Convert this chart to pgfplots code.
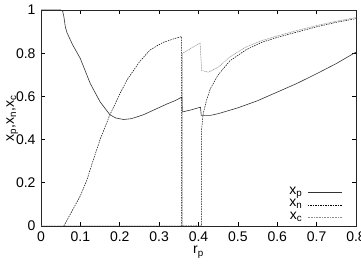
\documentclass[border=0pt]{standalone}
\usepackage{pgfplots}
\pgfplotsset{compat=1.18}
\usepackage{fontspec}
\setmainfont{Liberation Sans}
\begin{document}
\begin{tikzpicture}
\begin{axis}[
  at={(0,0)}, anchor=south west,
  scale only axis, width=315pt, height=216pt,
  xmin=0, xmax=0.8, ymin=0, ymax=1,
  xtick={0,0.1,...,0.8}, ytick={0,0.2,...,1},
  xticklabels={0,0.1,0.2,0.3,0.4,0.5,0.6,0.7,0.8},
  yticklabels={0,0.2,0.4,0.6,0.8,1},
  tick align=inside, major tick length=4pt,
  tick style={black, line width=0.6pt},
  axis line style={line width=0.8pt, black!85},
  xticklabel style={font=\fontsize{14}{16}\selectfont, yshift=-2pt},
  yticklabel style={font=\fontsize{14}{16}\selectfont, xshift=-2pt},
  xlabel={r\textsubscript{p}}, ylabel={x\textsubscript{p},x\textsubscript{n},x\textsubscript{c}},
  label style={font=\fontsize{14}{16}\selectfont},
  xlabel style={yshift=2pt},
  ylabel style={yshift=-9pt},
  legend plot pos=right, legend cell align=right,
  legend image code/.code={\draw[#1] (0pt,0pt) -- (34pt,0pt);},
  legend style={at={(0.956,0.012)}, anchor=south east, draw=none, fill=none,
    font=\fontsize{14}{14}\selectfont, row sep=1.5pt, column sep=4pt, inner sep=0pt,
    nodes={text height=6pt, text depth=3pt, inner sep=1pt}},
]
\addplot[black!80, line width=0.6pt] coordinates {
(0,1)(0.05,1)(0.055,0.995)(0.058,0.97)(0.062,0.92)(0.066,0.895)(0.08,0.84)(0.1,0.775)(0.125,0.66)(0.15,0.575)(0.175,0.515)(0.19,0.50)(0.21,0.493)(0.23,0.497)(0.26,0.515)(0.29,0.54)(0.32,0.565)(0.34,0.58)(0.358,0.597)(0.359,0.528)(0.38,0.537)(0.405,0.55)(0.407,0.512)(0.43,0.512)(0.45,0.52)(0.5,0.547)(0.55,0.58)(0.6,0.62)(0.65,0.66)(0.7,0.705)(0.75,0.752)(0.8,0.805)};
\addlegendentry{x\textsubscript{p}}
\addplot[black, line width=0.5pt, dash pattern=on 1.5pt off 1pt] coordinates {
(0.058,0)(0.07,0.04)(0.085,0.09)(0.1,0.14)(0.116,0.21)(0.13,0.29)(0.15,0.40)(0.175,0.515)(0.2,0.61)(0.218,0.675)(0.25,0.76)(0.277,0.815)(0.31,0.85)(0.34,0.868)(0.357,0.877)(0.357,0)(0.408,0)(0.408,0.45)(0.412,0.52)(0.42,0.58)(0.43,0.635)(0.45,0.7)(0.48,0.765)(0.52,0.815)(0.56,0.85)(0.6,0.873)(0.65,0.898)(0.7,0.922)(0.75,0.943)(0.8,0.96)};
\addlegendentry{x\textsubscript{n}}
\addplot[black!45, line width=0.5pt, dash pattern=on 1pt off 0.6pt] coordinates {
(0,0)(0.36,0)(0.36,0.80)(0.404,0.847)(0.408,0.72)(0.425,0.712)(0.45,0.735)(0.48,0.783)(0.52,0.828)(0.56,0.858)(0.6,0.88)(0.65,0.905)(0.7,0.928)(0.75,0.948)(0.8,0.965)};
\addlegendentry{x\textsubscript{c}}
\end{axis}
\pgfresetboundingbox
\path[use as bounding box] (-41pt,-41pt) rectangle (320pt,226pt);
\end{tikzpicture}
\end{document}
